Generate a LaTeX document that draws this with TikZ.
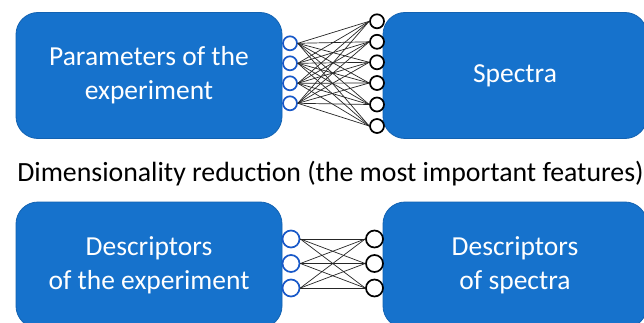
\documentclass[tikz,border=0pt]{standalone}
\usepackage{fontspec}
\setmainfont{Carlito}
\usetikzlibrary{positioning}
\definecolor{pblue}{RGB}{22,114,204}
\definecolor{eblue}{RGB}{18,98,178}
\definecolor{nblue}{RGB}{24,88,200}

\begin{document}
\begin{tikzpicture}[x=1pt,y=-1pt,
    block/.style={rectangle,rounded corners=22pt,fill=pblue,draw=eblue,line width=0.8pt,
      text=white,align=center,minimum width=266pt,minimum height=126pt,
      font=\fontsize{27.5}{34}\selectfont},
    inneuron/.style={circle,draw=nblue,fill=white,line width=1.7pt,inner sep=0pt,minimum size=14pt},
    outneuron/.style={inneuron,draw=black},
    wire/.style={black!85,line width=0.7pt}]
  \clip (0,0) rectangle (644,323);
  \fill[white] (0,0) rectangle (644,323);
  % full network
  \node[block] (param) at (149,75.5) {Parameters of the\\experiment};
  \node[block,minimum width=264pt] (spec) at (515,75.5) {Spectra};
  \foreach \i/\y in {1/43.3,2/63.3,3/83.3,4/103.3}
    \node[inneuron] (in\i) at (290,\y) {};
  \foreach \j/\y in {1/21.3,2/41.8,3/62.3,4/83,5/104.5,6/126}
    \node[outneuron] (out\j) at (377,\y) {};
  \foreach \i in {1,...,4}
    \foreach \j in {1,...,6}
      \draw[wire] (in\i.east) -- (out\j.west);
  \node[font=\fontsize{27.8}{32}\selectfont] (dimred) at (330.5,173.5)
    {Dimensionality reduction (the most important features)};
  % reduced network
  \node[block] (descexp) at (149,265) {Descriptors\\of the experiment};
  \node[block,minimum width=264pt] (descspec) at (515,265) {Descriptors\\of spectra};
  \foreach \i/\y in {1/239,2/263.5,3/288}
    {\node[inneuron,minimum size=17pt] (din\i) at (291,\y) {};
     \node[outneuron,minimum size=17pt] (dout\i) at (374.5,\y) {};}
  \foreach \i in {1,2,3}
    \foreach \j in {1,2,3}
      \draw[wire] (din\i.east) -- (dout\j.west);
\end{tikzpicture}
\end{document}
